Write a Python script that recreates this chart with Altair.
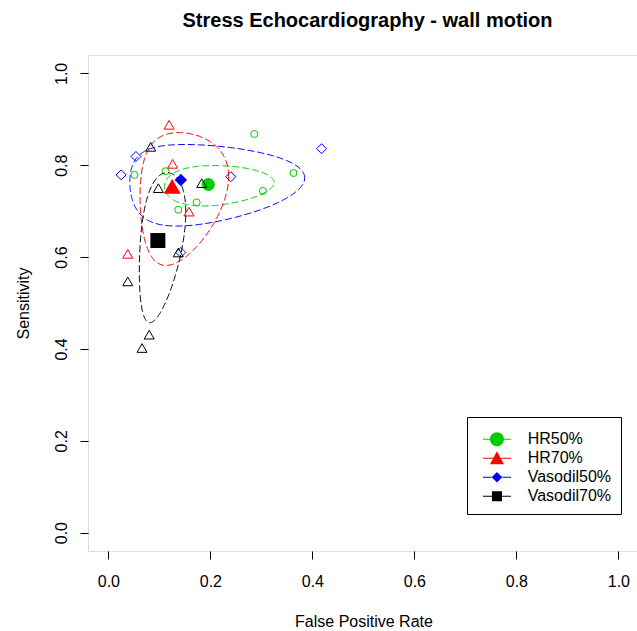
import numpy as np
import pandas as pd
import altair as alt

FONT = "Liberation Sans"

groups = ["HR50%", "HR70%", "Vasodil50%", "Vasodil70%"]
colors = ["#00CD00", "#FF0000", "#0000FF", "#000000"]

# study-level points (false positive rate, sensitivity)
hr50_fpr = [0.286, 0.051, 0.112, 0.363, 0.303, 0.173, 0.137]
hr50_sens = [0.868, 0.779, 0.787, 0.783, 0.744, 0.719, 0.703]
hr70_fpr = [0.119, 0.126, 0.158, 0.038]
hr70_sens = [0.888, 0.803, 0.699, 0.607]
vas50_fpr = [0.418, 0.054, 0.025, 0.240, 0.142]
vas50_sens = [0.836, 0.819, 0.779, 0.775, 0.610]
vas70_fpr = [0.083, 0.098, 0.183, 0.137, 0.038, 0.080, 0.066]
vas70_sens = [0.840, 0.750, 0.761, 0.610, 0.547, 0.431, 0.402]

# summary estimates
sum_fpr = [0.196, 0.125, 0.142, 0.097]
sum_sens = [0.758, 0.754, 0.768, 0.636]

# confidence regions (logit space): half-width, half-height, correlation
ell_sx = [0.68, 0.77, 1.33, 0.51]
ell_sy = [0.24, 0.79, 0.50, 0.73]
ell_rho = [0.10, 0.15, 0.05, 0.38]

x_ticks = [0.0, 0.2, 0.4, 0.6, 0.8, 1.0]
y_ticks = [0.0, 0.2, 0.4, 0.6, 0.8, 1.0]

study_fpr = [hr50_fpr, hr70_fpr, vas50_fpr, vas70_fpr]
study_sens = [hr50_sens, hr70_sens, vas50_sens, vas70_sens]
small_shape = ["circle", "triangle-up", "diamond", "triangle-up"]
small_size = [49, 100, 100, 100]
big_shape = ["circle", "triangle-up", "diamond", "square"]
big_size = [169, 289, 156, 225]

xscale = alt.Scale(domain=[-0.04, 1.0365], nice=False, zero=False)
yscale = alt.Scale(domain=[-0.04, 1.04], nice=False, zero=False)


def X():
    return alt.X("fpr:Q", scale=xscale, title="False Positive Rate",
                 axis=alt.Axis(values=x_ticks, format=".1f", grid=False, domain=False,
                               tickSize=8, tickColor="black", labelPadding=14,
                               labelFont=FONT, labelFontSize=16, labelColor="black",
                               labelBaseline="top",
                               titleFont=FONT, titleFontSize=16, titleFontWeight="normal",
                               titleColor="black", titleX=275.5, titleY=75,
                               titleBaseline="alphabetic", titleAlign="center"))


def Y():
    return alt.Y("sens:Q", scale=yscale, title="Sensitivity",
                 axis=alt.Axis(values=y_ticks, format=".1f", grid=False, domain=False,
                               tickSize=8, tickColor="black", labelPadding=14,
                               labelFont=FONT, labelFontSize=16, labelColor="black",
                               labelAngle=270, labelAlign="center", labelBaseline="alphabetic",
                               titleFont=FONT, titleFontSize=16, titleFontWeight="normal",
                               titleColor="black", titleAngle=270, titleX=-60, titleY=248,
                               titleBaseline="alphabetic", titleAlign="center"))


def logit(p):
    p = np.asarray(p, dtype=float)
    return np.log(p / (1 - p))


def expit(v):
    return 1 / (1 + np.exp(-v))


t = np.linspace(0, 2 * np.pi, 241)
layers = []
for i, g in enumerate(groups):
    pts = pd.DataFrame({"fpr": study_fpr[i], "sens": study_sens[i]})
    layers.append(alt.Chart(pts).mark_point(shape=small_shape[i], size=small_size[i],
                                            color=colors[i], filled=False, strokeWidth=1,
                                            opacity=1).encode(x=X(), y=Y()))
    cx, cy = logit(sum_fpr[i]), logit(sum_sens[i])
    r = ell_rho[i]
    lx = cx + ell_sx[i] * np.cos(t)
    ly = cy + ell_sy[i] * (r * np.cos(t) + np.sqrt(1 - r * r) * np.sin(t))
    ell = pd.DataFrame({"fpr": expit(lx), "sens": expit(ly), "k": np.arange(len(t))})
    layers.append(alt.Chart(ell).mark_line(color=colors[i], strokeWidth=1,
                                           strokeDash=[7, 3]).encode(
        x=X(), y=Y(), order="k:Q"))
    big = pd.DataFrame({"fpr": [sum_fpr[i]], "sens": [sum_sens[i]]})
    layers.append(alt.Chart(big).mark_point(shape=big_shape[i], size=big_size[i],
                                            color=colors[i], filled=True, opacity=1,
                                            strokeWidth=0).encode(x=X(), y=Y()))

# legend glyphs: a line through a marker (units of 7 px, shifted right)
S = 1.81


def f(v):
    return f"{v + S:.3f}"


def bar(a):
    return (f"M{f(-2)},-0.07L{f(-a)},-0.07L{f(-a)},0.07L{f(-2)},0.07Z "
            f"M{f(a)},-0.07L{f(2)},-0.07L{f(2)},0.07L{f(a)},0.07Z ")


legend_paths = [
    bar(1) + f"M{f(-1)},0A1,1,0,1,1,{f(1)},0A1,1,0,1,1,{f(-1)},0Z",
    bar(0.54) + f"M{f(0)},-1L{f(1)},0.85L{f(-1)},0.85Z",
    bar(0.76) + f"M{f(0)},-0.76L{f(0.76)},0L{f(0)},0.76L{f(-0.76)},0Z",
    bar(0.72) + f"M{f(-0.72)},-0.72L{f(0.72)},-0.72L{f(0.72)},0.72L{f(-0.72)},0.72Z",
]

leg = alt.Legend(title="\u00A0", titleFontSize=5, titlePadding=0, titleFont=FONT,
                 orient="none", legendX=379, legendY=362, padding=9.3,
                 strokeColor="black", fillColor="white", symbolSize=196,
                 symbolStrokeWidth=0, symbolOpacity=1, labelFont=FONT,
                 labelFontSize=16, labelColor="black", labelOffset=35.4, rowPadding=3)
leg_df = pd.DataFrame({"fpr": sum_fpr, "sens": sum_sens, "series": groups})
layers.append(alt.Chart(leg_df).mark_point(filled=True, opacity=0).encode(
    x=X(), y=Y(),
    color=alt.Color("series:N", scale=alt.Scale(domain=groups, range=colors), legend=leg),
    shape=alt.Shape("series:N", scale=alt.Scale(domain=groups, range=legend_paths), legend=leg),
))

chart = alt.layer(*layers).properties(
    width=549, height=496,
    title=alt.TitleParams("Stress Echocardiography - wall motion", font=FONT, fontSize=20,
                          fontWeight="bold", color="black", anchor="middle", frame="group",
                          baseline="alphabetic", offset=8, dx=5),
    autosize=alt.AutoSizeParams(type="none"),
    padding={"left": 88, "top": 55, "right": 0, "bottom": 80},
).configure_view(stroke="black", strokeWidth=1).configure(background="white")

chart.save("out.html", embed_options={"renderer": "svg", "actions": False})
